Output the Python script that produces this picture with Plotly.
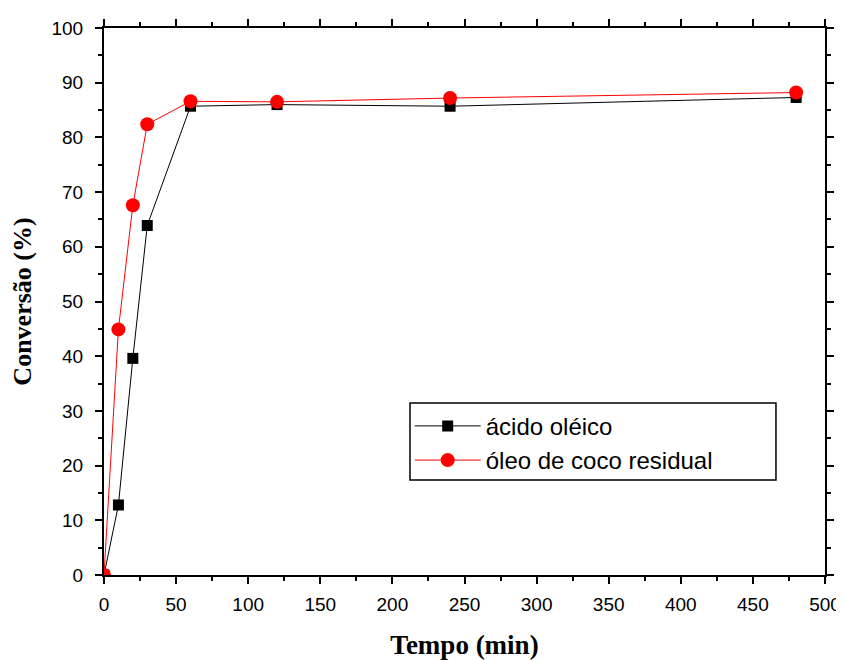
import plotly.graph_objects as go

tempo = [0, 10, 20, 30, 60, 120, 240, 480]
acido_oleico = [0, 12.8, 39.6, 63.9, 85.7, 86.0, 85.7, 87.3]
oleo_coco = [0, 44.9, 67.6, 82.4, 86.6, 86.5, 87.2, 88.2]
x_ticks = [0, 50, 100, 150, 200, 250, 300, 350, 400, 450, 500]
y_ticks = [0, 10, 20, 30, 40, 50, 60, 70, 80, 90, 100]

fig = go.Figure()
fig.add_trace(go.Scatter(x=tempo, y=acido_oleico, mode="lines+markers", name="ácido oléico",
                         line=dict(color="black", width=1),
                         marker=dict(symbol="square", size=11, color="black")))
fig.add_trace(go.Scatter(x=tempo, y=oleo_coco, mode="lines+markers", name="óleo de coco residual",
                         line=dict(color="red", width=1),
                         marker=dict(symbol="circle", size=14, color="red")))

axis_common = dict(showline=True, linecolor="black", linewidth=2, mirror="ticks",
                   ticks="outside", ticklen=7, tickwidth=2, tickcolor="black",
                   showgrid=False, zeroline=False, automargin=False,
                   tickfont=dict(family="Liberation Sans, Arial", size=19, color="black"))

fig.update_xaxes(range=[0, 500], tickvals=x_ticks, ticklabelstandoff=4,
                 minor=dict(dtick=25, ticks="outside", ticklen=4, tickwidth=1.5, tickcolor="black"),
                 title=dict(text="<b>Tempo (min)</b>", standoff=22,
                            font=dict(family="Liberation Serif, Times New Roman", size=27, color="black")),
                 **axis_common)
fig.update_yaxes(range=[0, 100], tickvals=y_ticks, ticklabelstandoff=8,
                 minor=dict(dtick=5, ticks="outside", ticklen=4, tickwidth=1.5, tickcolor="black"),
                 title=dict(text="<b>Conversão (%)</b>", standoff=14,
                            font=dict(family="Liberation Serif, Times New Roman", size=26, color="black")),
                 **axis_common)

# legend frame
fig.add_shape(type="rect", xref="paper", yref="paper", x0=0.4244, x1=0.932, y0=0.1737, y1=0.3144,
              line=dict(color="black", width=1.5), fillcolor="white", layer="below")

fig.update_layout(width=836, height=652, plot_bgcolor="white", paper_bgcolor="white",
                  margin=dict(l=96, r=19, t=20, b=85),
                  legend=dict(x=0.424, y=0.313, xanchor="left", yanchor="top",
                              borderwidth=0, bgcolor="rgba(0,0,0,0)",
                              font=dict(family="Liberation Sans, Arial", size=24, color="black"),
                              itemwidth=66, tracegroupgap=0))
fig.write_html("out.html")
